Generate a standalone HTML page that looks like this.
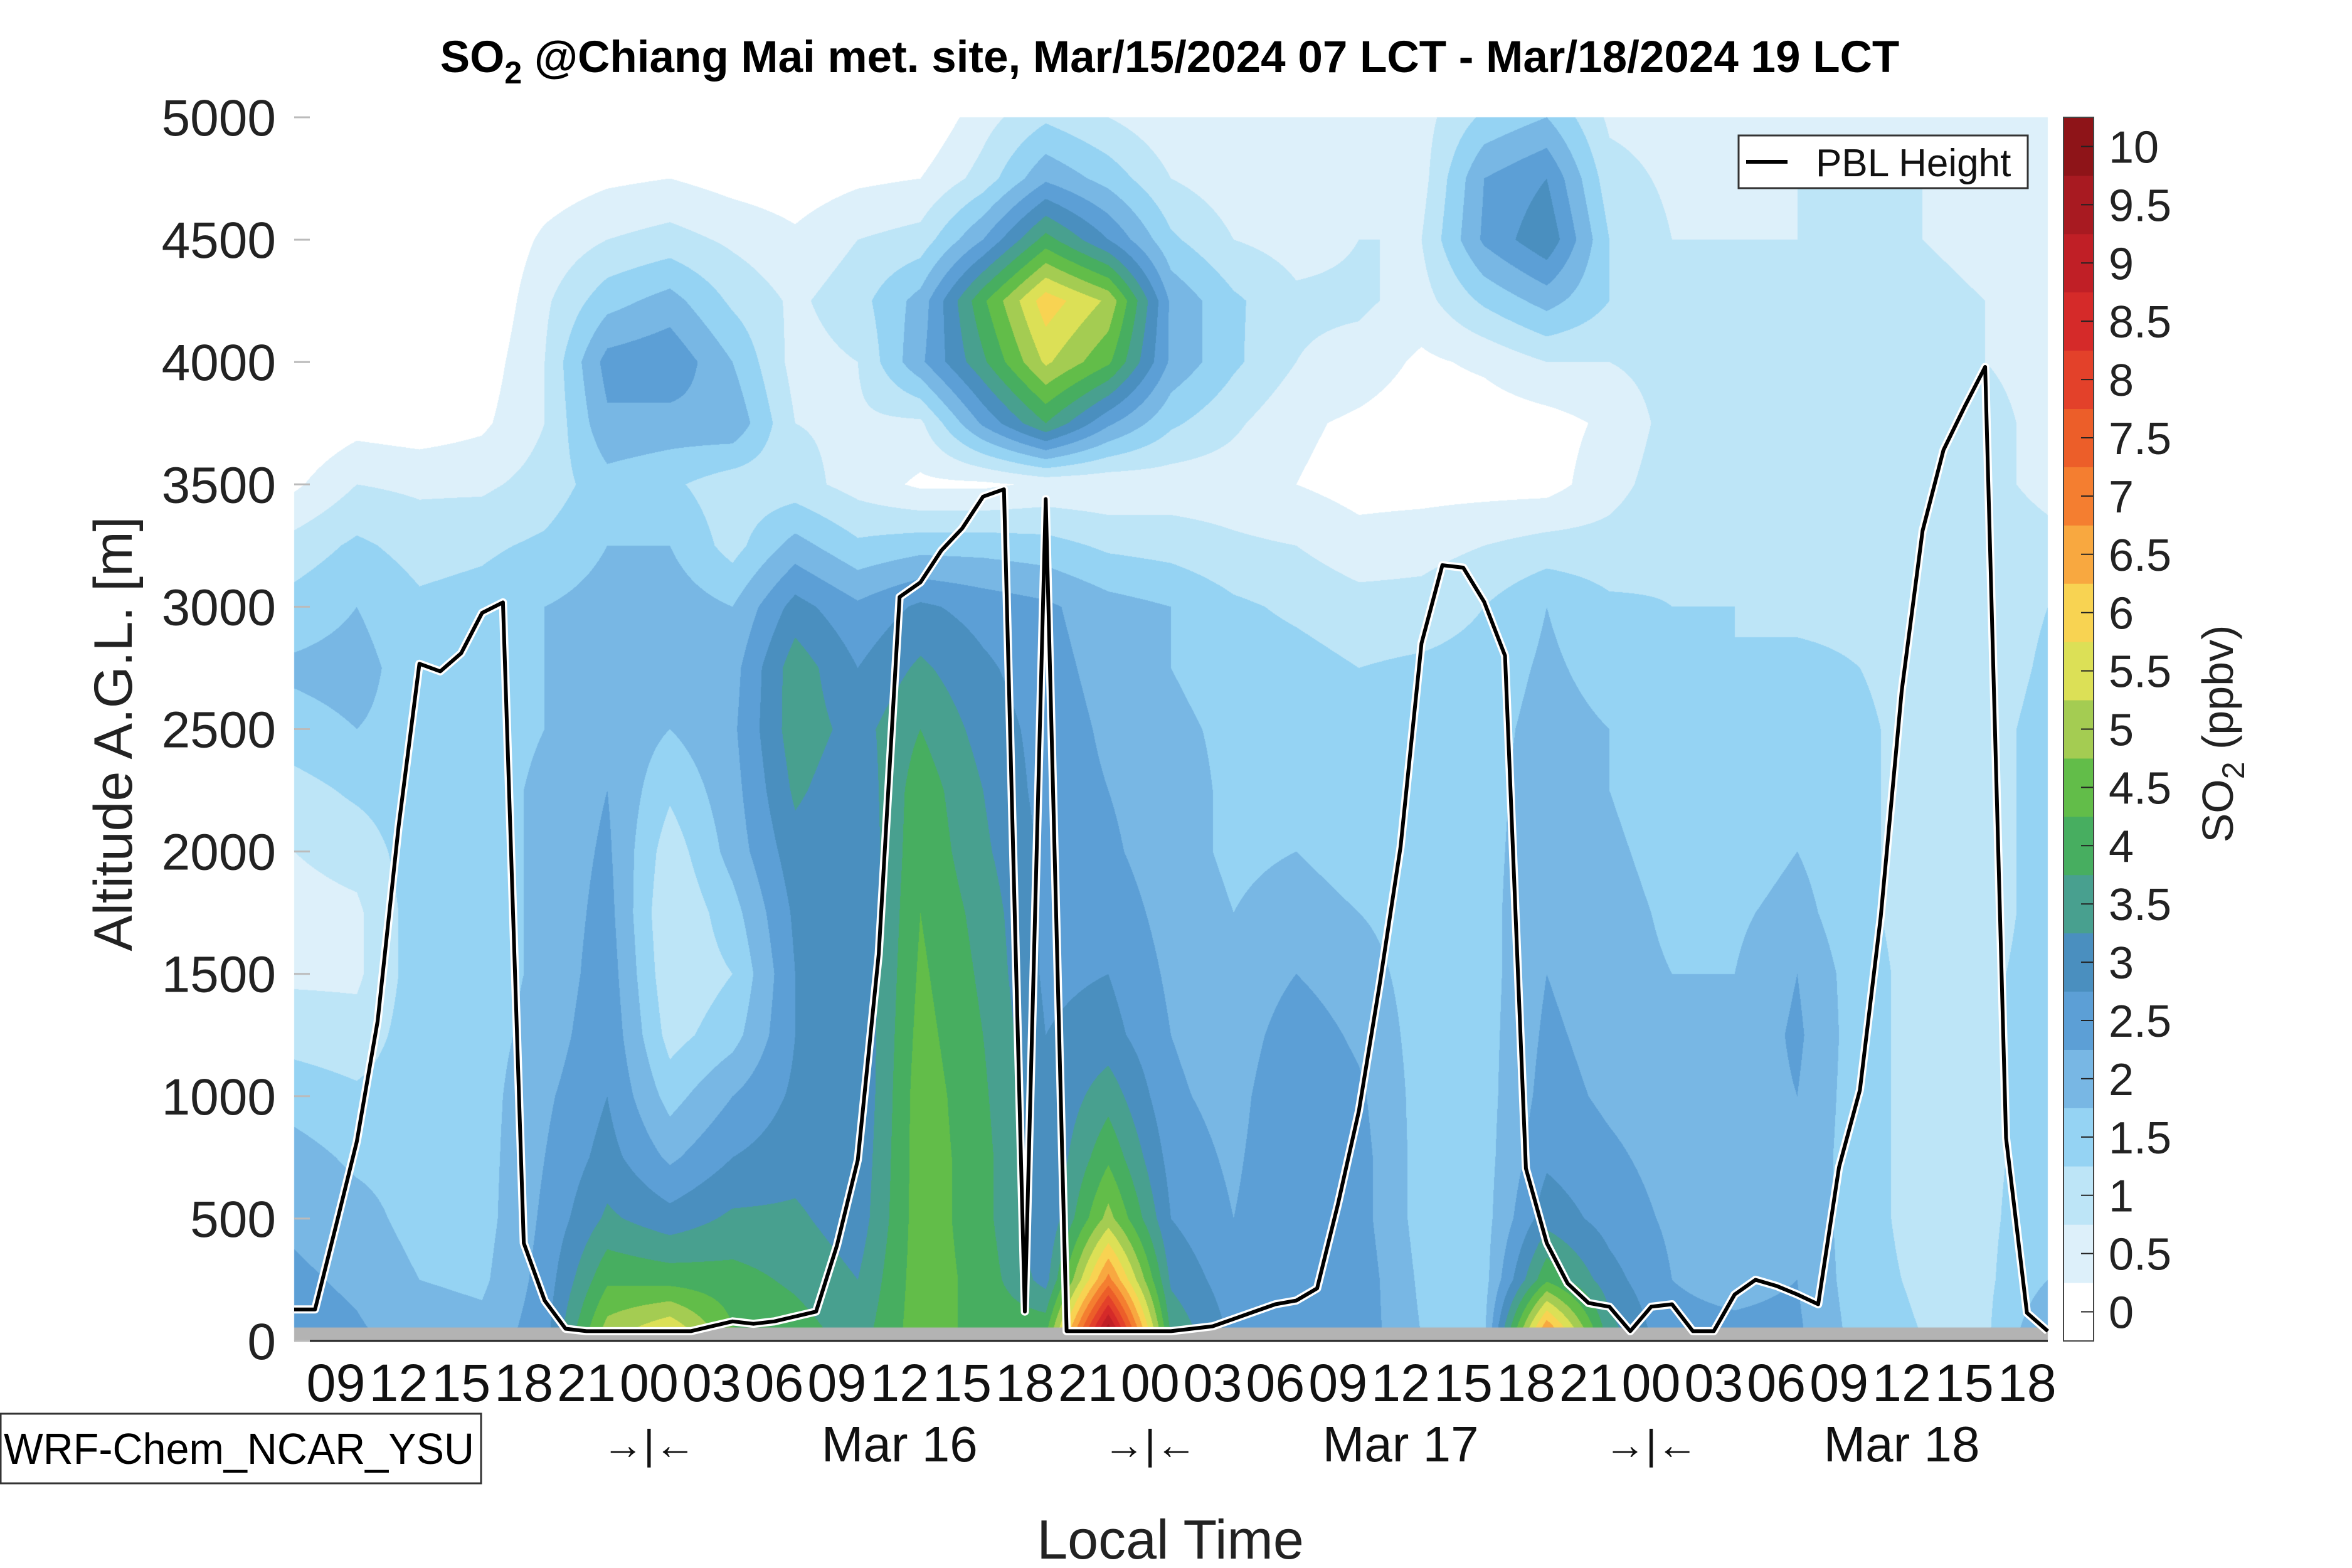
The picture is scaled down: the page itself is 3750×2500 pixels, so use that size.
<!DOCTYPE html>
<html><head><meta charset="utf-8"><style>
html,body{margin:0;padding:0;background:#fff;}
#wrap{position:relative;width:3750px;height:2500px;overflow:hidden;font-family:"Liberation Sans",sans-serif;}
canvas,svg{position:absolute;left:0;top:0;}
</style></head><body>
<div id="wrap">
<canvas id="field" width="3750" height="2500"></canvas>
<svg id="svg" width="3750" height="2500"></svg>
</div>
<script>
// ---- data ----
const hoursGrid = [0,3,6,9,12,15,18,21,24,27,30,33,36,39,42,45,48,51,54,57,60,63,66,69,72,75,78,81,84];
const altGrid = [0,250,500,750,1000,1250,1500,1750,2000,2250,2500,2750,3000,3250,3500,3750,4000,4250,4500,4750,5000];
const so2Columns = [
[2.8,2.6,2.4,2.2,1.8,1.3,0.9,0.8,1.0,1.3,1.8,2.1,1.7,1.2,0.4,0,0,0,0,0,0],
[2.6,2.4,2.2,1.9,1.6,1.2,0.9,0.9,1.2,1.6,2.0,2.2,2.0,1.6,1.0,0.3,0,0,0,0,0],
[2.3,2.0,1.8,1.8,1.8,1.8,1.8,1.8,1.8,1.8,1.8,1.7,1.6,1.3,0.9,0.2,0,0,0,0,0],
[2.2,1.9,1.8,1.8,1.8,1.8,1.8,1.8,1.8,1.8,1.8,1.8,1.7,1.4,0.9,0.4,0.2,0,0,0,0],
[2.8,2.7,2.6,2.5,2.4,2.2,2.1,2.1,2.1,2.1,2.0,2.0,2.0,1.6,1.2,1.0,1.0,0.9,0.6,0.2,0],
[5.4,4.4,3.6,3.2,3.0,2.9,2.8,2.7,2.6,2.5,2.4,2.3,2.2,2.0,1.8,2.4,2.7,1.8,1.0,0.4,0],
[6.3,4.3,3.2,2.4,1.8,1.3,1.1,1.0,1.2,1.6,2.0,2.2,2.3,2.0,1.6,2.3,2.9,2.2,1.2,0.5,0],
[4.6,4.2,3.6,3.0,2.5,1.8,1.5,1.8,2.2,2.3,2.4,2.3,2.0,1.3,1.2,2.4,2.0,1.4,0.9,0.3,0],
[4.3,3.9,3.6,3.3,3.1,3.0,3.0,3.1,3.3,3.6,3.8,3.8,3.2,2.2,1.2,1.0,0.8,0.9,0.6,0.2,0],
[3.8,3.5,3.2,3.1,3.0,3.0,3.0,3.0,3.0,3.1,3.3,3.0,2.6,1.6,0.8,0.9,1.0,1.3,1.0,0.4,0],
[4.8,4.8,4.8,4.8,4.8,4.7,4.6,4.5,4.4,4.3,4.0,3.6,3.1,1.8,0.4,0.9,2.4,2.2,1.2,0.5,0],
[4.3,4.3,4.2,4.2,4.1,4.0,3.9,3.8,3.6,3.5,3.3,3.1,2.8,1.8,0.4,2.6,3.9,4.4,2.5,1.2,0.8],
[4.6,3.3,3.0,3.0,3.0,3.0,2.9,2.9,2.9,2.8,2.8,2.7,2.6,1.7,0.6,4.0,5.6,6.3,4.2,2.4,1.4],
[10.4,7.2,5.2,4.4,3.8,3.2,3.0,2.8,2.6,2.5,2.4,2.3,2.2,1.4,0.6,2.6,4.6,5.4,3.0,1.8,1.0],
[4.0,3.4,3.0,2.8,2.6,2.5,2.4,2.3,2.2,2.2,2.1,2.0,2.0,1.3,0.7,1.6,2.4,2.4,1.6,1.0,0.6],
[2.9,2.7,2.5,2.4,2.3,2.2,2.1,2.0,1.9,1.9,1.9,1.8,1.6,1.1,0.7,1.1,1.6,1.6,1.0,0.7,0.5],
[3.0,3.0,3.0,3.0,3.0,2.8,2.5,2.2,2.0,1.9,1.8,1.7,1.4,1.0,0.5,0.6,1.0,1.1,0.8,0.6,0.5],
[2.8,2.8,2.7,2.7,2.6,2.4,2.2,2.0,1.8,1.7,1.6,1.5,1.2,0.7,0.3,0.4,0.8,1.1,1.0,0.7,0.5],
[2.0,1.9,1.8,1.8,1.8,1.8,1.8,1.8,1.8,1.8,1.8,1.6,1.2,0.8,0.3,0.2,0.4,0.8,1.0,0.8,0.8],
[1.9,1.8,1.8,1.8,1.8,1.8,1.8,1.8,1.8,1.8,1.8,1.7,1.5,1.0,0.3,0.2,0.6,1.6,2.6,2.5,1.6],
[7.6,4.4,3.3,2.9,2.7,2.6,2.5,2.5,2.4,2.3,2.2,2.1,2.0,1.2,0.3,0.3,1.0,2.2,3.4,3.0,2.0],
[3.8,3.2,2.8,2.6,2.4,2.3,2.2,2.2,2.1,2.0,2.0,1.8,1.6,1.2,0.8,0.6,1.0,1.5,1.5,1.2,0.9],
[2.6,2.5,2.4,2.3,2.2,2.1,2.0,1.9,1.8,1.7,1.6,1.6,1.5,1.4,1.3,1.2,1.2,1.1,1.0,0.9,0.8],
[2.6,2.4,2.3,2.2,2.2,2.1,2.0,1.9,1.7,1.6,1.6,1.5,1.5,1.4,1.3,1.2,1.2,1.1,1.0,0.9,0.8],
[2.6,2.5,2.4,2.4,2.5,2.6,2.5,2.2,2.0,1.8,1.7,1.6,1.4,1.3,1.3,1.2,1.2,1.1,1.0,1.0,0.9],
[1.8,1.7,1.7,1.7,1.7,1.7,1.7,1.6,1.6,1.6,1.6,1.5,1.4,1.3,1.3,1.2,1.2,1.1,1.0,1.0,0.9],
[1.5,1.4,1.3,1.3,1.3,1.3,1.3,1.3,1.3,1.3,1.3,1.3,1.3,1.3,1.2,1.2,1.1,1.1,1.0,1.0,0.9],
[1.4,1.4,1.4,1.4,1.4,1.4,1.4,1.3,1.3,1.3,1.3,1.2,1.2,1.2,1.1,1.1,1.0,1.0,0.9,0.9,0.8],
[2.6,2.0,1.8,1.7,1.7,1.7,1.7,1.7,1.7,1.7,1.7,1.6,1.5,1.1,0.9,0.9,0.9,0.8,0.7,0.6,0.5]
];
const pblHeight = [129,129,470,815,1307,2100,2767,2736,2810,2975,3018,400,165,50,40,40,40,40,40,40,60,80,70,80,100,120,390,740,1580,3040,3100,3230,3320,3450,3480,120,3440,40,40,40,40,40,40,50,60,90,120,150,165,215,560,940,1460,2020,2850,3170,3160,3020,2800,705,400,235,155,140,40,140,150,40,40,190,250,225,190,150,710,1025,1735,2655,3310,3640,3815,3980,830,115,40];
const levelColors = ["#ffffff","#ddf0fa","#bde5f7","#95d3f3","#78b7e4","#5c9fd6","#4a8fbf","#48a08f","#47ae60","#62bd49","#a4cc52","#dce056","#f8d352","#f8a840","#f47e30","#ec5e29","#e3412a","#d52a29","#c01f26","#a81a21","#8e1418"];
const cbTickLabels = ["0","0.5","1","1.5","2","2.5","3","3.5","4","4.5","5","5.5","6","6.5","7","7.5","8","8.5","9","9.5","10"];
const yTickValues = [0,500,1000,1500,2000,2500,3000,3500,4000,4500,5000];
const xTickLabels = ["09","12","15","18","21","00","03","06","09","12","15","18","21","00","03","06","09","12","15","18","21","00","03","06","09","12","15","18"];
const dateLabels = ["Mar 16","Mar 17","Mar 18"];

// ---- axes ----
const X0=469, X1=3265, Y0=2138, Y1=187, HMAX=84, AMAX=5000;
const xOf = h => X0 + h*(X1-X0)/HMAX;
const yOf = a => Y0 - a*(Y0-Y1)/AMAX;
const hOf = x => (x-X0)*HMAX/(X1-X0);
const aOf = y => (Y0-y)*AMAX/(Y0-Y1);

// ---- field ----
const cv=document.getElementById('field'), ctx=cv.getContext('2d');
const rgb=levelColors.map(c=>[parseInt(c.slice(1,3),16),parseInt(c.slice(3,5),16),parseInt(c.slice(5,7),16)]);
const W=Math.round(X1-X0), H=Math.round(Y0-Y1);
const img=ctx.createImageData(W,H);
const nT=hoursGrid.length, nA=altGrid.length;
for(let py=0;py<H;py++){
  const a=aOf(Y1+py+0.5);
  let fa=a/(altGrid[nA-1]-altGrid[0])*(nA-1); if(fa<0)fa=0; if(fa>nA-1.0001)fa=nA-1.0001;
  const ia=Math.floor(fa), ta=fa-ia;
  for(let px=0;px<W;px++){
    const h=hOf(X0+px+0.5);
    let ft=h/(hoursGrid[nT-1]-hoursGrid[0])*(nT-1); if(ft<0)ft=0; if(ft>nT-1.0001)ft=nT-1.0001;
    const it=Math.floor(ft), tt=ft-it;
    const c0=so2Columns[it], c1=so2Columns[it+1];
    const v=(c0[ia]*(1-ta)+c0[ia+1]*ta)*(1-tt)+(c1[ia]*(1-ta)+c1[ia+1]*ta)*tt;
    let k=Math.floor(v/0.5); if(k<0)k=0; if(k>20)k=20;
    const o=(py*W+px)*4, c=rgb[k];
    img.data[o]=c[0];img.data[o+1]=c[1];img.data[o+2]=c[2];img.data[o+3]=255;
  }
}
ctx.putImageData(img,Math.round(X0),Math.round(Y1));
ctx.fillStyle='#b3b3b3';
ctx.fillRect(X0,yOf(55),X1-X0,Y0-yOf(55));

// ---- svg overlay ----
const NS='http://www.w3.org/2000/svg', svg=document.getElementById('svg');
function mk(tag,attrs,txt){const e=document.createElementNS(NS,tag);for(const k in attrs)e.setAttribute(k,attrs[k]);if(txt!==undefined)e.textContent=txt;svg.appendChild(e);return e;}

const pts=pblHeight.map((a,i)=>xOf(i).toFixed(1)+','+yOf(a).toFixed(1)).join(' ');
const halo=mk('polyline',{points:pts,fill:'none',stroke:'#fff','stroke-width':13,'stroke-linejoin':'round'});


const pbl=mk('polyline',{points:pts,fill:'none',stroke:'#000','stroke-width':6,'stroke-linejoin':'round'});



const ax=mk('line',{x1:X0,y1:Y0,x2:X1,y2:Y0,stroke:'#222','stroke-width':3});



yTickValues.forEach(v=>{
  const t=mk('line',{x1:X0,y1:yOf(v),x2:X0+25,y2:yOf(v),stroke:'#bbb','stroke-width':3});
  
  
  const l=mk('text',{x:440,y:yOf(v)+29,'text-anchor':'end','font-size':82,fill:'#222'},String(v));
  
  
});
xTickLabels.forEach((s,i)=>{
  const l=mk('text',{x:xOf(2+3*i)-47,y:2234,'font-size':84,fill:'#111',textLength:94,lengthAdjust:'spacingAndGlyphs'},s);
  
  
});
dateLabels.forEach((s,i)=>{
  const l=mk('text',{x:xOf(29+24*i),y:2330,'text-anchor':'middle','font-size':80,fill:'#111'},s);
  
  
  const m=mk('text',{x:xOf(17+24*i),y:2326,'text-anchor':'middle','font-size':66,fill:'#111'},'→|←');
  
  
});

const CBX=3290, CBW=48;
levelColors.forEach((c,i)=>{
  const bh=(Y0-Y1)/21, y=Y0-(i+1)*bh;
  const r=mk('rect',{x:CBX,y:y,width:CBW,height:bh+0.5,fill:c});
  
  
  const tk=mk('line',{x1:CBX+CBW-20,y1:y+bh/2,x2:CBX+CBW,y2:y+bh/2,stroke:'#222','stroke-width':2});
  
  
  const l=mk('text',{x:3362,y:y+bh/2+26,'font-size':72,fill:'#222'},cbTickLabels[i]);
  
  
});
const cbo=mk('rect',{x:CBX,y:Y1,width:CBW,height:Y0-Y1,fill:'none',stroke:'#444','stroke-width':2});


</script>
<svg width="3750" height="2500" style="position:absolute;left:0;top:0">
<text x="1865" y="115" text-anchor="middle" font-size="71" font-weight="bold" fill="#000" font-family="Liberation Sans, sans-serif">SO<tspan dy="18" font-size="50">2</tspan><tspan dy="-18"> @Chiang Mai met. site, Mar/15/2024 07 LCT - Mar/18/2024 19 LCT</tspan></text>
<text transform="translate(210,1170) rotate(-90)" text-anchor="middle" font-size="86" fill="#222" font-family="Liberation Sans, sans-serif">Altitude A.G.L. [m]</text>
<text x="1866" y="2485" text-anchor="middle" font-size="88" fill="#222" font-family="Liberation Sans, sans-serif">Local Time</text>
<text transform="translate(3560,1170) rotate(-90)" text-anchor="middle" font-size="70" fill="#222" font-family="Liberation Sans, sans-serif">SO<tspan dy="18" font-size="50">2</tspan><tspan dy="-18"> (ppbv)</tspan></text>
<g>
<rect x="2772" y="216" width="461" height="84" fill="#fff" stroke="#333" stroke-width="3"/>
<line x1="2784" y1="258" x2="2850" y2="258" stroke="#000" stroke-width="6"/>
<text x="2895" y="281" font-size="62" fill="#111" font-family="Liberation Sans, sans-serif">PBL Height</text>
</g>
<rect x="1" y="2254" width="766" height="111" fill="#fff" stroke="#333" stroke-width="3"/>
<text x="6" y="2334" font-size="70" fill="#000" font-family="Liberation Sans, sans-serif" textLength="750" lengthAdjust="spacingAndGlyphs">WRF-Chem_NCAR_YSU</text>
</svg>
</body></html>
